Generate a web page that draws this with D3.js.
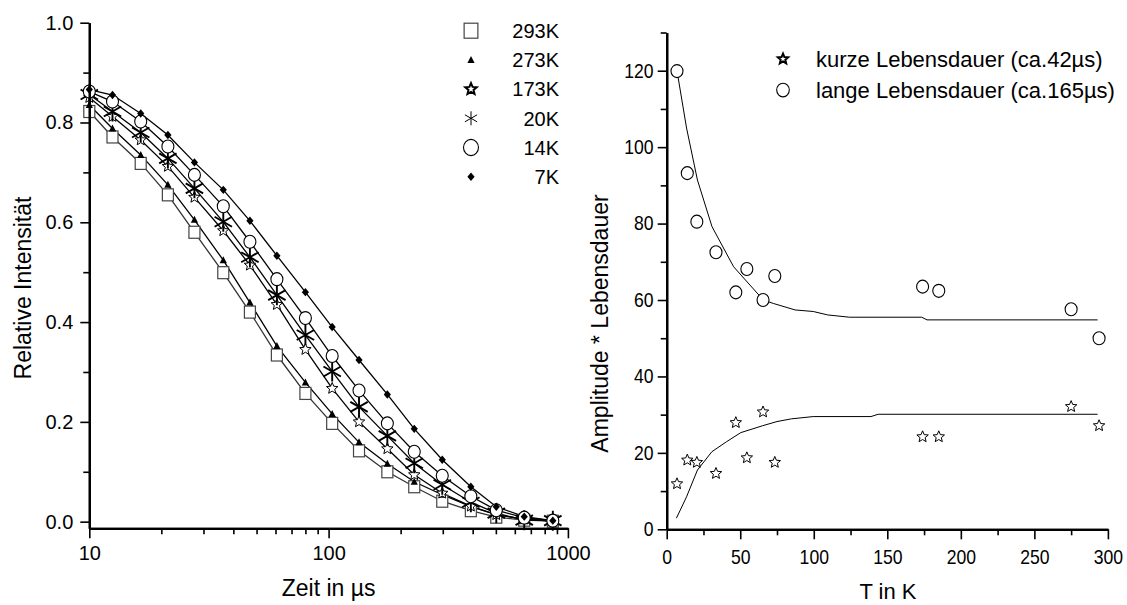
<!DOCTYPE html>
<html>
<head>
<meta charset="utf-8">
<script src="https://cdn.jsdelivr.net/npm/d3@7"></script>
<style>
  body { margin: 0; background: #fff; }
  svg { display: block; font-family: "Liberation Sans", Arial, sans-serif; }
</style>
</head>
<body>
<svg width="1127" height="605"></svg>
<script>
// ---- left panel: normalised decay curves ----
const times = [10, 12.5, 16.4, 21.3, 27.5, 36.3, 46.9, 60.8, 80, 103.5, 134, 176, 228, 298.5, 393, 502, 657, 865];
const amp293 = [.822, .771, .718, .655, .580, .499, .420, .334, .257, .197, .142, .100, .070, .041, .022, .009, .003, .001];
const amp273 = [.835, .788, .735, .675, .605, .524, .439, .352, .279, .216, .159, .116, .080, .054, .030, .014, .005, .001];
const amp173 = [.850, .812, .765, .712, .650, .583, .514, .435, .345, .267, .200, .146, .094, .057, .031, .014, .005, .001];
const amp20  = [.856, .822, .780, .728, .668, .601, .530, .454, .374, .301, .230, .172, .117, .074, .039, .017, .003, .002];
const amp14  = [.862, .842, .802, .752, .695, .632, .561, .486, .408, .332, .263, .197, .140, .092, .051, .023, .008, .002];
const amp7   = [.866, .855, .818, .775, .720, .665, .603, .533, .460, .390, .324, .255, .186, .124, .070, .030, .010, .002];
const tempLabels = ['293K', '273K', '173K', '20K', '14K', '7K'];
const markerTypes = ['square', 'triangle', 'star', 'asterisk', 'circle', 'diamond'];
const leftTicksY = [0, 0.2, 0.4, 0.6, 0.8, 1.0];
const leftTicksX = [10, 100, 1000];

// ---- right panel: amplitude * lifetime vs temperature ----
const tempK = [7, 14, 20.5, 33.5, 47, 54.5, 65.5, 73.5, 174, 185, 275, 294];
const shortVals = [11.9, 18.1, 17.5, 14.6, 27.9, 18.7, 30.7, 17.5, 24.2, 24.2, 32.1, 27.1];
const longVals = [119.9, 93.2, 80.5, 72.5, 62.0, 68.1, 60.0, 66.3, 63.5, 62.4, 57.6, 50.0];
const fitShortT = [6.6, 13.5, 20.9, 30.7, 40.6, 50.4, 65.2, 75, 84.8, 99.6, 138.9, 143.8, 293];
const fitShortV = [2.9, 8.5, 15.5, 20.3, 22.9, 25.3, 27.1, 28.2, 28.9, 29.5, 29.5, 30.1, 30.1];
const fitLongT = [7, 13.5, 20.9, 30.8, 45.5, 65.7, 72.5, 87.3, 99.6, 109.4, 124.2, 173.4, 177, 293];
const fitLongV = [120, 105, 91.4, 79.2, 68.7, 60.0, 59.1, 57.4, 57.0, 56.1, 55.5, 55.5, 54.8, 54.8];
const legendRight = ['kurze Lebensdauer (ca.42µs)', 'lange Lebensdauer (ca.165µs)'];

const svg = d3.select('svg');

const starPoints = (r) => {
  const pts = [];
  for (let i = 0; i < 10; i++) {
    const a = -Math.PI / 2 + i * Math.PI / 5;
    const rr = i % 2 === 0 ? r : r * 0.45;
    pts.push([rr * Math.cos(a), rr * Math.sin(a)]);
  }
  return pts.map(p => p.join(',')).join(' ');
};

// draws one symbol centred at x,y; k scales it
const marker = (g, type, x, y, k, heavy) => {
  const m = g.append('g').attr('transform', `translate(${x},${y})`);
  if (type === 'square') {
    m.append('rect').attr('x', -5.5 * k).attr('y', -6 * k).attr('width', 11 * k).attr('height', 12 * k)
     .attr('fill', '#fff').attr('stroke', '#444').attr('stroke-width', 1.2);
  } else if (type === 'triangle') {
    m.append('path').attr('d', `M0,${-4 * k}L${3.6 * k},${3 * k}L${-3.6 * k},${3 * k}Z`).attr('fill', '#000');
  } else if (type === 'diamond') {
    m.append('path').attr('d', `M0,${-4.2 * k}L${3.6 * k},0L0,${4.2 * k}L${-3.6 * k},0Z`).attr('fill', '#000');
  } else if (type === 'circle') {
    m.append('ellipse').attr('rx', 6 * k).attr('ry', 6.5 * k)
     .attr('fill', '#fff').attr('stroke', '#000').attr('stroke-width', 1.1);
  } else if (type === 'star') {
    m.append('polygon').attr('points', starPoints(6 * k))
     .attr('fill', '#fff').attr('stroke', '#000').attr('stroke-width', heavy ? 2 : 1);
  } else if (type === 'asterisk') {
    const h = 10 * k, w = 8.7 * k;
    m.append('path').attr('d', `M0,${-h}V${h}M${-w},${-h / 2}L${w},${h / 2}M${-w},${h / 2}L${w},${-h / 2}`)
     .attr('stroke', '#000').attr('stroke-width', heavy ? 1.9 : 1).attr('fill', 'none');
  }
};

// ================= left chart =================
const xL = d3.scaleLog().domain([10, 1000]).range([89.3, 567.9]);
const yL = d3.scaleLinear().domain([-0.0133, 1]).range([528.3, 22.7]);

const series = [amp293, amp273, amp173, amp20, amp14, amp7];
const lineL = d3.line().x((d, i) => xL(times[i])).y(d => yL(d));

const left = svg.append('g');
series.forEach((s, si) => {
  left.append('path').datum(s).attr('d', lineL)
      .attr('fill', 'none').attr('stroke', si === 0 ? '#333' : '#000').attr('stroke-width', 1.3);
});
series.forEach((s, si) => {
  s.forEach((v, i) => marker(left, markerTypes[si], xL(times[i]), yL(v), 1, si === 3));
});

// left axes
svg.append('g').attr('transform', 'translate(89.3,0)')
  .call(d3.axisLeft(yL).tickValues(leftTicksY).tickFormat(d3.format('.1f')).tickSize(9).tickPadding(7).tickSizeOuter(0));
svg.append('g').attr('transform', 'translate(89.3,0)')
  .call(d3.axisLeft(yL).tickValues([0.1, 0.3, 0.5, 0.7, 0.9]).tickFormat('').tickSize(6).tickSizeOuter(0));
svg.append('g').attr('transform', 'translate(0,528.3)')
  .call(d3.axisBottom(xL).tickValues(leftTicksX).tickFormat(d3.format('d')).tickSize(10).tickPadding(8).tickSizeOuter(0));
svg.append('g').attr('transform', 'translate(0,528.3)')
  .call(d3.axisBottom(xL).tickValues([20, 30, 40, 50, 60, 70, 80, 90, 200, 300, 400, 500, 600, 700, 800, 900])
    .tickFormat('').tickSize(6).tickSizeOuter(0));

// left legend
tempLabels.forEach((lab, i) => {
  const y = 30.7 + i * 29.2;
  marker(svg, markerTypes[i], 471, y, i === 0 || i === 4 ? 1.25 : (i === 3 ? 0.7 : 1), i === 2);
  svg.append('text').attr('x', 559).attr('y', y).attr('dy', '0.36em')
     .attr('text-anchor', 'end').attr('font-size', 20).text(lab);
});

svg.append('text').attr('transform', 'translate(30.5,288) rotate(-90)')
   .attr('text-anchor', 'middle').attr('font-size', 23).text('Relative Intensität');
svg.append('text').attr('x', 328.6).attr('y', 596)
   .attr('text-anchor', 'middle').attr('font-size', 23).text('Zeit in µs');

// ================= right chart =================
const xR = d3.scaleLinear().domain([0, 300]).range([666.7, 1107.9]);
const yR = d3.scaleLinear().domain([0, 130]).range([529.3, 32.5]);

const right = svg.append('g');
const fitLine = (T, V) => d3.line().x((d, i) => xR(T[i])).y(d => yR(d))(V);
right.append('path').attr('d', fitLine(fitLongT, fitLongV)).attr('fill', 'none').attr('stroke', '#000').attr('stroke-width', 1);
right.append('path').attr('d', fitLine(fitShortT, fitShortV)).attr('fill', 'none').attr('stroke', '#000').attr('stroke-width', 1);

longVals.forEach((v, i) => marker(right, 'circle', xR(tempK[i]), yR(v), 1, false));
shortVals.forEach((v, i) => marker(right, 'star', xR(tempK[i]), yR(v), 1, false));

const yAxisR = svg.append('g').attr('transform', 'translate(666.7,0)')
  .call(d3.axisLeft(yR).tickValues([0, 20, 40, 60, 80, 100, 120]).tickSize(9).tickPadding(6).tickSizeOuter(0));
svg.append('g').attr('transform', 'translate(666.7,0)')
  .call(d3.axisLeft(yR).tickValues([10, 30, 50, 70, 90, 110, 130]).tickFormat('').tickSize(6).tickSizeOuter(0));
const xAxisR = svg.append('g').attr('transform', 'translate(0,529.3)')
  .call(d3.axisBottom(xR).tickValues([0, 50, 100, 150, 200, 250, 300]).tickSize(10).tickPadding(11).tickSizeOuter(0));
svg.append('g').attr('transform', 'translate(0,529.3)')
  .call(d3.axisBottom(xR).tickValues([25, 75, 125, 175, 225, 275]).tickFormat('').tickSize(6).tickSizeOuter(0));

// right legend
legendRight.forEach((lab, i) => {
  const y = 59 + i * 31;
  marker(svg, i === 0 ? 'star' : 'circle', 783, y, i === 0 ? 0.9 : 1.05, true);
  svg.append('text').attr('x', 816).attr('y', y).attr('dy', '0.36em').attr('font-size', 22).text(lab);
});

svg.append('text').attr('transform', 'translate(608,323.5) rotate(-90)')
   .attr('text-anchor', 'middle').attr('font-size', 23).text('Amplitude * Lebensdauer');
svg.append('text').attr('x', 888).attr('y', 599)
   .attr('text-anchor', 'middle').attr('font-size', 22).text('T in K');

// shared axis styling
svg.selectAll('.domain').attr('stroke', '#000').attr('stroke-width', 2.2);
svg.selectAll('.tick line').attr('stroke', '#000').attr('stroke-width', 1.6);
svg.selectAll('.tick text').attr('font-size', 20).attr('font-family', '"Liberation Sans", Arial, sans-serif').attr('fill', '#000');
[yAxisR, xAxisR].forEach(a => a.selectAll('.tick text').attr('transform', 'scale(0.88,1)'));
</script>
</body>
</html>
